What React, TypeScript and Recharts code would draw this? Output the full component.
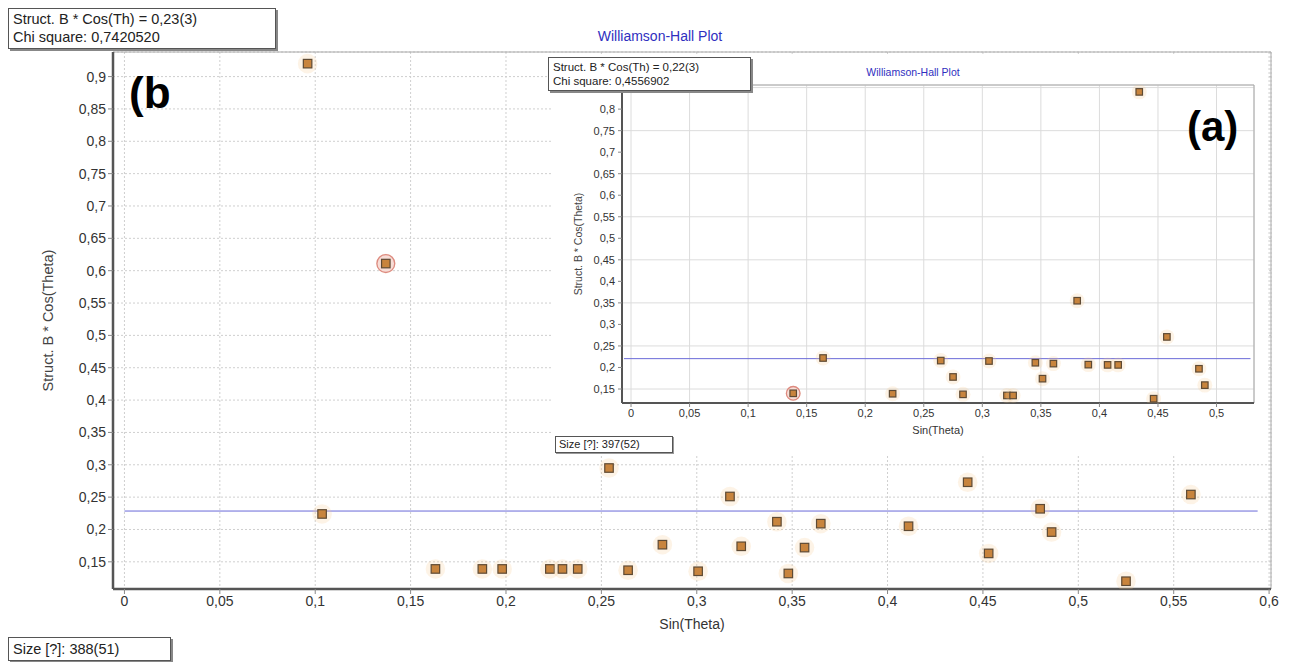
import React from "react";
import {
  ScatterChart,
  Scatter,
  XAxis,
  YAxis,
  CartesianGrid,
  ReferenceLine,
  ReferenceArea,
  Label,
} from "recharts";

// main plot (b): sin(theta) vs struct. B * cos(theta)
const mainSin = [
  0.096, 0.137, 0.1036, 0.163, 0.1876, 0.198, 0.223, 0.2296, 0.2376, 0.254,
  0.264, 0.282, 0.3007, 0.3174, 0.3233, 0.342, 0.348, 0.3565, 0.365, 0.411,
  0.442, 0.453, 0.48, 0.486, 0.525, 0.559,
];
const mainB = [
  0.92, 0.611, 0.224, 0.139, 0.139, 0.139, 0.139, 0.139, 0.139, 0.295,
  0.137, 0.1765, 0.1354, 0.251, 0.174, 0.212, 0.132, 0.172, 0.209, 0.205,
  0.273, 0.163, 0.232, 0.196, 0.12, 0.254,
];
const mainSelected = 1;
const mainFit = 0.2285;
const mainFitEnd = 0.594;
const mainXTicks = [0, 0.05, 0.1, 0.15, 0.2, 0.25, 0.3, 0.35, 0.4, 0.45, 0.5, 0.55, 0.6];
const mainYTicks = [0.15, 0.2, 0.25, 0.3, 0.35, 0.4, 0.45, 0.5, 0.55, 0.6, 0.65, 0.7, 0.75, 0.8, 0.85, 0.9];

// inset plot (a)
const insetSin = [
  0.1385, 0.164, 0.2234, 0.2645, 0.275, 0.2835, 0.3057, 0.321, 0.3263, 0.3453,
  0.3514, 0.3607, 0.381, 0.3905, 0.407, 0.416, 0.434, 0.4463, 0.4576, 0.485, 0.49,
];
const insetB = [
  0.14, 0.222, 0.139, 0.216, 0.178, 0.1376, 0.215, 0.135, 0.135, 0.211,
  0.174, 0.209, 0.355, 0.2066, 0.206, 0.206, 0.84, 0.1275, 0.271, 0.197, 0.159,
];
const insetSelected = 0;
const insetFit = 0.2205;
const insetFitEnd = 0.529;
const insetXTicks = [0, 0.05, 0.1, 0.15, 0.2, 0.25, 0.3, 0.35, 0.4, 0.45, 0.5];
const insetYTicks = [0.15, 0.2, 0.25, 0.3, 0.35, 0.4, 0.45, 0.5, 0.55, 0.6, 0.65, 0.7, 0.75, 0.8, 0.85];

const mainData = mainSin.map((x, i) => ({ x, y: mainB[i], sel: i === mainSelected }));
const insetData = insetSin.map((x, i) => ({ x, y: insetB[i], sel: i === insetSelected }));

const fmt = (v: number) => String(v).replace(".", ",");
const FONT = "'Liberation Sans', Arial, sans-serif";

const makeMarker = (size: number) => (props: any) => {
  const { cx, cy, payload } = props;
  if (cx == null || cy == null) return <g />;
  return (
    <g>
      <circle cx={cx} cy={cy} r={size * 1.15} fill="#f8c98c" opacity={0.22} />
      {payload.sel && (
        <circle cx={cx} cy={cy} r={size * 1.05} fill="#f7ddd6" stroke="#dd8a80" strokeWidth={1.3} />
      )}
      <rect
        x={cx - size / 2}
        y={cy - size / 2}
        width={size}
        height={size}
        fill="#c8843d"
        stroke="#5e4a34"
        strokeWidth={1.2}
      />
    </g>
  );
};

const boxStyle: React.CSSProperties = {
  position: "absolute",
  background: "#fff",
  border: "1px solid #555",
  boxShadow: "2px 2px 0 #888",
  color: "#222",
  whiteSpace: "nowrap",
  boxSizing: "border-box",
};

export default function App() {
  return (
    <div
      style={{
        position: "absolute",
        left: 0,
        top: 0,
        width: 1302,
        height: 662,
        background: "#fff",
        fontFamily: FONT,
        overflow: "hidden",
      }}
    >
      <ScatterChart width={1302} height={662} margin={{ top: 52, right: 31, bottom: 43, left: 30 }}>
        <CartesianGrid stroke="#cfcfcf" strokeDasharray="2 2" />
        <ReferenceArea x1={-0.006} x2={0.601} y1={0.108} y2={0.938} fill="none" stroke="#a8a8a8" />
        <XAxis
          type="number"
          dataKey="x"
          domain={[-0.006, 0.601]}
          ticks={mainXTicks}
          tickFormatter={fmt}
          allowDataOverflow
          height={30}
          tickSize={5}
          tickMargin={2}
          axisLine={{ stroke: "#555", strokeWidth: 2.5 }}
          tickLine={{ stroke: "#888" }}
          tick={{ fill: "#333", fontSize: 14, fontFamily: FONT }}
        >
          <Label value="Sin(Theta)" position="bottom" offset={0} fill="#333" fontSize={14} fontFamily={FONT} />
        </XAxis>
        <YAxis
          type="number"
          dataKey="y"
          domain={[0.108, 0.938]}
          ticks={mainYTicks}
          tickFormatter={fmt}
          allowDataOverflow
          width={83}
          tickSize={5}
          tickMargin={2}
          axisLine={{ stroke: "#555", strokeWidth: 2.5 }}
          tickLine={{ stroke: "#888" }}
          tick={{ fill: "#333", fontSize: 14, fontFamily: FONT }}
        >
          <Label
            value="Struct. B * Cos(Theta)"
            position="insideLeft"
            angle={-90}
            offset={18}
            fill="#444"
            fontSize={14.5}
            fontFamily={FONT}
            style={{ textAnchor: "middle" }}
          />
        </YAxis>
        <ReferenceLine
          segment={[
            { x: 0, y: mainFit },
            { x: mainFitEnd, y: mainFit },
          ]}
          stroke="#6a6ad8"
          strokeWidth={1}
        />
        <Scatter data={mainData} shape={makeMarker(8.5)} isAnimationActive={false} />
      </ScatterChart>

      <div
        style={{
          position: "absolute",
          left: 0,
          width: 1302,
          top: 28,
          textAlign: "center",
          paddingLeft: 18,
          boxSizing: "border-box",
          color: "#2f2fc0",
          fontSize: 14,
        }}
      >
        Williamson-Hall Plot
      </div>

      <div style={{ ...boxStyle, left: 8, top: 8, width: 268, height: 41, fontSize: 14.5, lineHeight: "18px", padding: "1px 4px" }}>
        Struct. B * Cos(Th) = 0,23(3)
        <br />
        Chi square: 0,7420520
      </div>

      <div style={{ ...boxStyle, left: 8, top: 637, width: 163, height: 24, fontSize: 14.5, lineHeight: "20px", padding: "1px 4px" }}>
        Size [?]: 388(51)
      </div>

      <div style={{ position: "absolute", left: 129, top: 68, fontSize: 44, fontWeight: "bold", color: "#000" }}>(b</div>

      {/* inset (a) */}
      <div style={{ position: "absolute", left: 553, top: 55, width: 715, height: 401, background: "#fff" }}>
        <ScatterChart width={715} height={401} margin={{ top: 30, right: 14, bottom: 33, left: 5 }}>
          <CartesianGrid stroke="#dcdcdc" />
          <ReferenceArea x1={-0.0077} x2={0.532} y1={0.1175} y2={0.856} fill="none" stroke="#a8a8a8" />
          <XAxis
            type="number"
            dataKey="x"
            domain={[-0.0077, 0.532]}
            ticks={insetXTicks}
            tickFormatter={fmt}
            allowDataOverflow
            height={20}
            tickSize={4}
            tickMargin={2}
            axisLine={{ stroke: "#555", strokeWidth: 2 }}
            tickLine={{ stroke: "#888" }}
            tick={{ fill: "#333", fontSize: 11, fontFamily: FONT }}
          >
            <Label value="Sin(Theta)" position="bottom" offset={3} fill="#333" fontSize={11} fontFamily={FONT} />
          </XAxis>
          <YAxis
            type="number"
            dataKey="y"
            domain={[0.1175, 0.856]}
            ticks={insetYTicks}
            tickFormatter={fmt}
            allowDataOverflow
            width={64}
            tickSize={4}
            tickMargin={3}
            axisLine={{ stroke: "#555", strokeWidth: 2 }}
            tickLine={{ stroke: "#888" }}
            tick={{ fill: "#333", fontSize: 11, fontFamily: FONT }}
          >
            <Label
              value="Struct. B * Cos(Theta)"
              position="insideLeft"
              angle={-90}
              offset={20}
              fill="#444"
              fontSize={10.5}
              fontFamily={FONT}
              style={{ textAnchor: "middle" }}
            />
          </YAxis>
          <ReferenceLine
            segment={[
              { x: -0.006, y: insetFit },
              { x: insetFitEnd, y: insetFit },
            ]}
            stroke="#6a6ad8"
            strokeWidth={1}
          />
          <Scatter data={insetData} shape={makeMarker(6.5)} isAnimationActive={false} />
        </ScatterChart>
      </div>

      <div
        style={{
          position: "absolute",
          left: 813,
          width: 200,
          top: 66,
          textAlign: "center",
          color: "#2f2fc0",
          fontSize: 10.5,
        }}
      >
        Williamson-Hall Plot
      </div>

      <div style={{ ...boxStyle, left: 548, top: 57, width: 203, height: 34, fontSize: 11.5, lineHeight: "14px", padding: "2px 4px" }}>
        Struct. B * Cos(Th) = 0,22(3)
        <br />
        Chi square: 0,4556902
      </div>

      <div style={{ ...boxStyle, left: 555, top: 436, width: 118, height: 17, fontSize: 11, lineHeight: "14px", padding: "0 3px", boxShadow: "1px 1px 0 #999" }}>
        Size [?]: 397(52)
      </div>

      <div style={{ position: "absolute", left: 1187, top: 103, fontSize: 42, fontWeight: "bold", color: "#000" }}>(a)</div>
    </div>
  );
}
